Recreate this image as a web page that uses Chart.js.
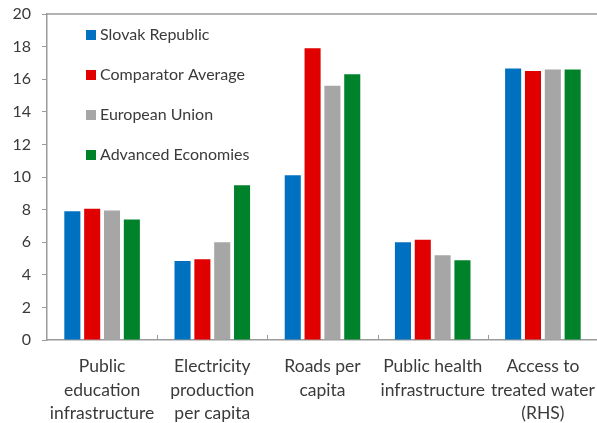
<!DOCTYPE html>
<html>
<head>
<meta charset="utf-8">
<script src="https://cdn.jsdelivr.net/npm/chart.js@4"></script>
<style>
  html, body { margin: 0; padding: 0; background: #fff; overflow: hidden; }
  #wrap { width: 600px; height: 423px; position: relative; }
</style>
</head>
<body>
<div id="wrap"><canvas id="chart"></canvas></div>
<script>
// categories (multi-line labels)
const categories = [
    ['Public', 'education', 'infrastructure'],
    ['Electricity', 'production', 'per capita'],
    ['Roads per', 'capita'],
    ['Public health', 'infrastructure'],
    ['Access to', 'treated water', '(RHS)'],
]

const slovakRepublic = [7.9, 4.85, 10.1, 6.0, 16.65]
const comparatorAverage = [8.05, 4.95, 17.9, 6.15, 16.5]
const europeanUnion = [7.95, 6.0, 15.6, 5.2, 16.6]
const advancedEconomies = [7.4, 9.5, 16.3, 4.9, 16.6]

const yTicks = [0, 2, 4, 6, 8, 10, 12, 14, 16, 18, 20]

const FONT = 'Lato, "Open Sans", sans-serif'
const AXIS_GRAY = '#9a9a9a'
const TEXT = '#3a3a3a'

// legend drawn inside the plot, top-left
const insideLegend = {
    id: 'insideLegend',
    afterDraw(chart) {
        const ctx = chart.ctx
        const area = chart.chartArea
        ctx.save()
        ctx.font = '16px ' + FONT
        ctx.textBaseline = 'middle'
        chart.data.datasets.forEach((ds, i) => {
            const y = area.top + 21 + i * 40
            const x = area.left + 39
            ctx.fillStyle = ds.backgroundColor
            ctx.fillRect(x, y - 5, 10, 10)
            ctx.fillStyle = TEXT
            ctx.fillText(ds.label, x + 14, y)
        })
        ctx.restore()
    }
}

// top border + short inward ticks between categories
const frame = {
    id: 'frame',
    afterDraw(chart) {
        const ctx = chart.ctx
        const area = chart.chartArea
        const xs = chart.scales.x
        ctx.save()
        ctx.strokeStyle = AXIS_GRAY
        ctx.lineWidth = 1.5
        ctx.beginPath()
        ctx.moveTo(area.left, area.top)
        ctx.lineTo(area.right, area.top)
        ctx.stroke()
        ctx.lineWidth = 1
        for (let i = 1; i < categories.length; i++) {
            const px = Math.round((xs.getPixelForValue(i - 1) + xs.getPixelForValue(i)) / 2) + 0.5
            ctx.beginPath()
            ctx.moveTo(px, area.bottom)
            ctx.lineTo(px, area.bottom - 5)
            ctx.stroke()
        }
        ctx.restore()
    }
}

const bar = (label, data, color) => ({
    label, data,
    backgroundColor: color,
    borderWidth: 0,
    categoryPercentage: 0.72,
    barPercentage: 0.81,
})

new Chart(document.getElementById('chart'), {
    type: 'bar',
    data: {
        labels: categories,
        datasets: [
            bar('Slovak Republic', slovakRepublic, '#0070C0'),
            bar('Comparator Average', comparatorAverage, '#E00000'),
            bar('European Union', europeanUnion, '#A6A6A6'),
            bar('Advanced Economies', advancedEconomies, '#00822B'),
        ]
    },
    options: {
        responsive: true,
        maintainAspectRatio: false,
        animation: false,
        layout: { padding: { top: 14, right: 2, left: 0, bottom: 0 } },
        plugins: {
            legend: { display: false },
            tooltip: { enabled: false },
        },
        scales: {
            x: {
                grid: { display: false },
                border: { color: AXIS_GRAY, width: 1.5 },
                ticks: {
                    color: TEXT,
                    font: { family: FONT, size: 17.5, lineHeight: '23.5px' },
                    maxRotation: 0,
                    autoSkip: false,
                    padding: 7,
                },
                afterFit(scale) {
                    scale.height = 83
                    scale.paddingLeft = 0
                    scale.paddingRight = 0
                },
            },
            y: {
                min: 0,
                max: 20,
                afterBuildTicks(scale) { scale.ticks = yTicks.map(v => ({ value: v })) },
                grid: {
                    drawOnChartArea: false,
                    drawTicks: true,
                    tickLength: 5,
                    color: AXIS_GRAY,
                },
                border: { color: AXIS_GRAY, width: 1.5 },
                ticks: {
                    color: TEXT,
                    font: { family: FONT, size: 16 },
                    padding: 11,
                },
                afterFit(scale) {
                    scale.width = 47
                    scale.paddingTop = 0
                    scale.paddingBottom = 0
                },
            }
        }
    },
    plugins: [insideLegend, frame]
})
</script>
</body>
</html>
